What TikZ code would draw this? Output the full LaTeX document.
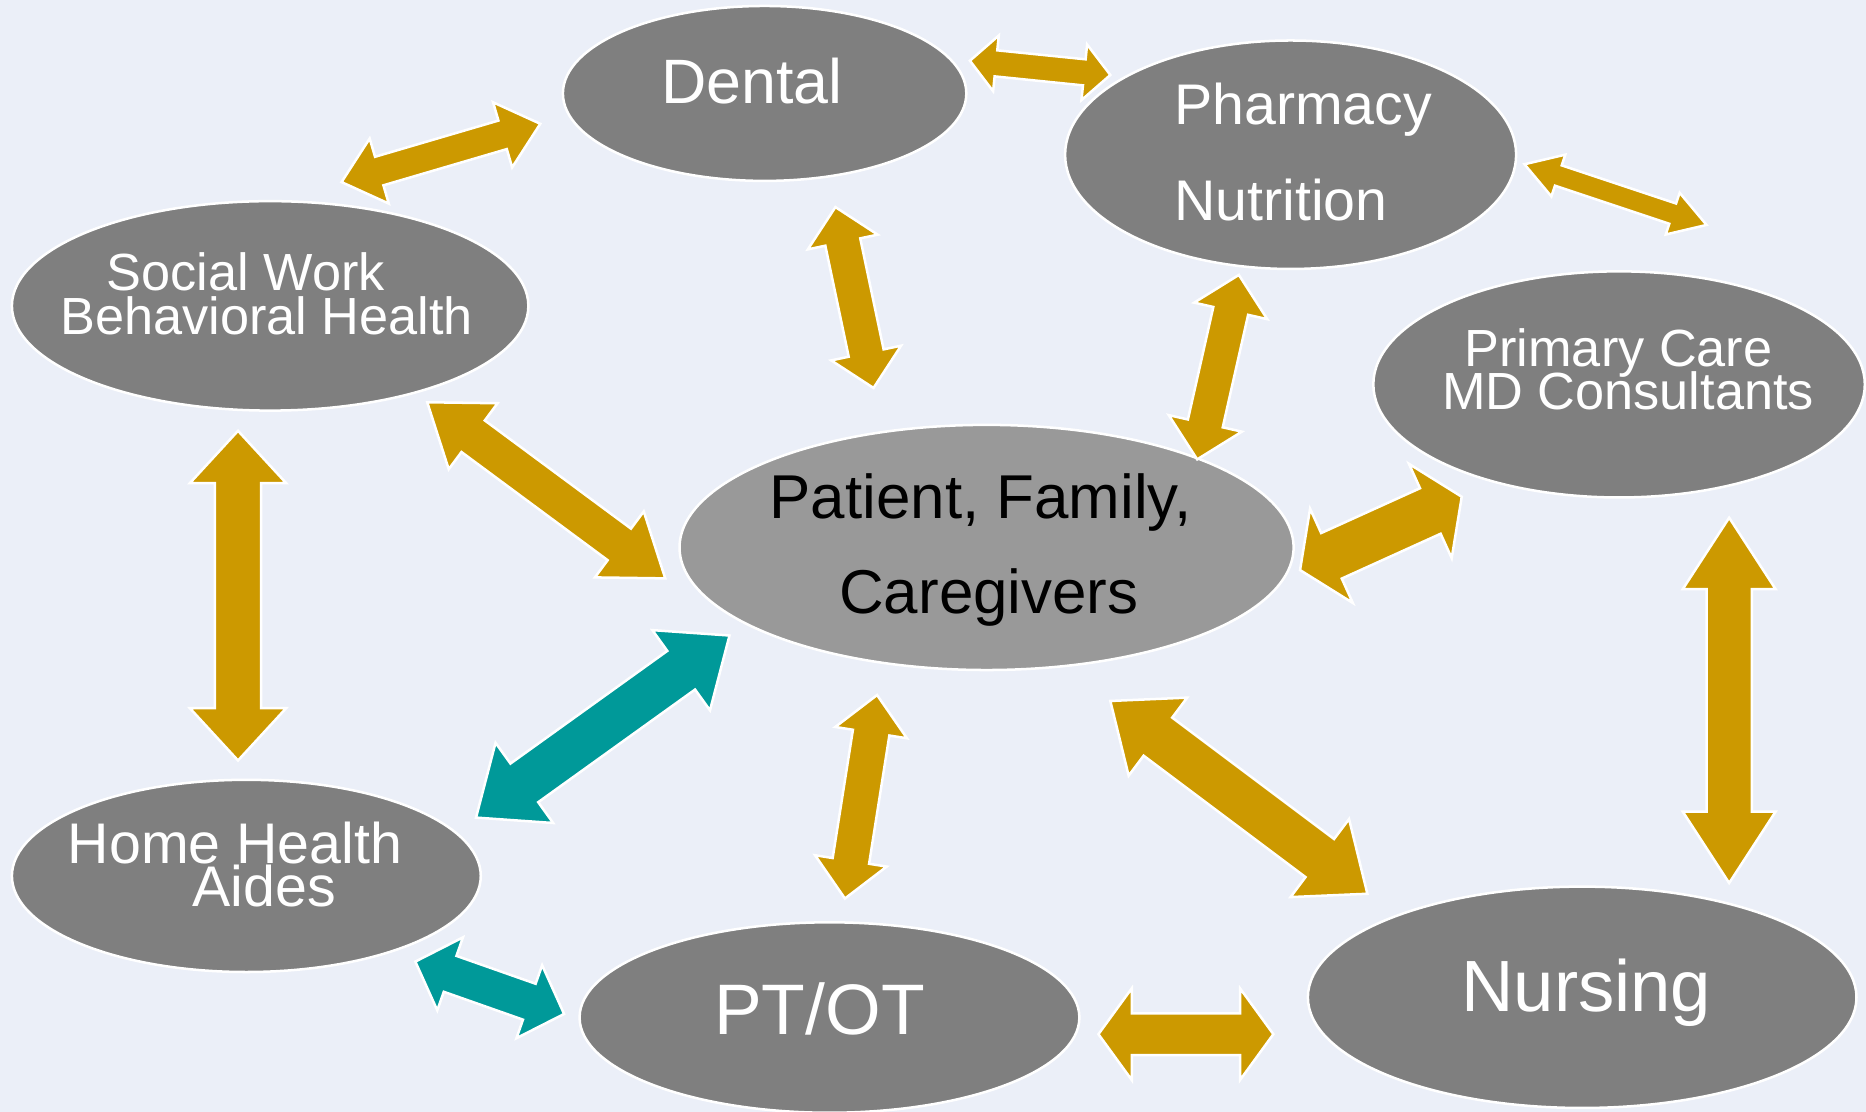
\documentclass[tikz,border=0pt]{standalone}
\usepackage{fontspec}
\setmainfont{Liberation Sans}
\usetikzlibrary{shapes.geometric, calc}

\definecolor{bgblue}{RGB}{235,239,248}
\definecolor{teamgray}{RGB}{127,127,127}
\definecolor{centergray}{RGB}{153,153,153}
\definecolor{gold}{RGB}{204,153,0}
\definecolor{linkteal}{RGB}{0,153,153}

\newcommand{\tagfont}[2]{\fontsize{#1}{#2}\selectfont\lineskiplimit=-20pt\relax}

\tikzset{
    team/.style={ellipse, draw=white, line width=0.6pt, fill=teamgray},
    tag/.style={text=white, inner sep=0pt, align=center},
    arrowbody/.style={draw=white, line width=0.6pt},
}

% block arrow with a head at both tips: tips, shaft width, head width, head length
\newcommand{\teamarrow}[6][gold]{%
    \path (#2) coordinate (ta) (#3) coordinate (tb);
    \path ($(ta)!#6!(tb)$) coordinate (ha) ($(tb)!#6!(ta)$) coordinate (hb);
    \filldraw[arrowbody, fill=#1]
    (ta) -- ($(ha)!0.5*#5!90:(tb)$) -- ($(ha)!0.5*#4!90:(tb)$)
    -- ($(hb)!0.5*#4!-90:(ta)$) -- ($(hb)!0.5*#5!-90:(ta)$) -- (tb)
    -- ($(hb)!0.5*#5!90:(ta)$) -- ($(hb)!0.5*#4!90:(ta)$)
    -- ($(ha)!0.5*#4!-90:(tb)$) -- ($(ha)!0.5*#5!-90:(tb)$) -- cycle;
}

\begin{document}
\begin{tikzpicture}
    \useasboundingbox (0, 0) rectangle (15.68, -9.34);
    \fill[bgblue] (0, 0) rectangle (15.68, -9.34);

    \node[team, minimum width=3.39cm, minimum height=1.47cm,
    label={[tag, xshift=-1.05mm, yshift=1mm, font=\tagfont{15}{18}]center:Dental}]
    (dental) at (6.425, -0.785) {};
    \node[team, minimum width=3.79cm, minimum height=1.92cm,
    label={[tag, align=left, xshift=1.05mm, yshift=0.25mm, font=\tagfont{13.7}{22.9}]center:Pharmacy\\Nutrition}]
    (pharm) at (10.845, -1.3) {};
    \node[team, minimum width=4.34cm, minimum height=1.76cm,
    label={[tag, xshift=-0.3mm, yshift=1mm, font=\tagfont{12.5}{10.4}]center:Social Work\hspace*{3.5mm}\\Behavioral Health}]
    (social) at (2.27, -2.57) {};
    \node[team, minimum width=4.13cm, minimum height=1.9cm,
    label={[tag, xshift=0.75mm, yshift=1.3mm, font=\tagfont{12.5}{10.25}]center:Primary Care\hspace*{1.6mm}\\MD Consultants}]
    (primary) at (13.605, -3.23) {};
    \node[team, fill=centergray, minimum width=5.16cm, minimum height=2.06cm,
    label={[tag, text=black, xshift=0.2mm, yshift=-0.2mm, font=\tagfont{14.8}{22.8}]center:{Patient, Family,\hspace*{1.4mm}\\Caregivers}}]
    (patient) at (8.29, -4.6) {};
    \node[team, minimum width=3.94cm, minimum height=1.615cm,
    label={[tag, xshift=1.5mm, yshift=0.95mm, font=\tagfont{13.7}{10.35}]center:Home Health\hspace*{4.9mm}\\Aides}]
    (home) at (2.07, -7.36) {};
    \node[team, minimum width=4.2cm, minimum height=1.6cm,
    label={[tag, xshift=-0.85mm, yshift=0.75mm, font=\tagfont{17.1}{20}]center:PT/OT}]
    (ptot) at (6.97, -8.55) {};
    \node[team, minimum width=4.61cm, minimum height=1.86cm,
    label={[tag, xshift=0.35mm, yshift=0.4mm, font=\tagfont{17.35}{20}]center:Nursing}]
    (nursing) at (13.295, -8.38) {};

    \teamarrow{[shift={(0.6, 1.04)}]social}{[shift={(-1.885, -0.255)}]dental}{0.25cm}{0.57cm}{0.33cm}
    \teamarrow{[shift={(1.725, 0.275)}]dental}{[shift={(-1.515, 0.67)}]pharm}{0.22cm}{0.47cm}{0.22cm}
    \teamarrow{[shift={(1.965, -0.08)}]pharm}{[shift={(0.735, 1.34)}]primary}{0.18cm}{0.37cm}{0.3cm}
    \teamarrow{[shift={(0.595, -0.955)}]dental}{[shift={(-0.95, 1.34)}]patient}{0.3cm}{0.6cm}{0.3cm}
    \teamarrow{[shift={(-0.435, -1.01)}]pharm}{[shift={(1.77, 0.74)}]patient}{0.3cm}{0.63cm}{0.31cm}
    \teamarrow{[shift={(1.32, -0.81)}]social}{[shift={(-2.7, -0.26)}]patient}{0.33cm}{0.69cm}{0.48cm}
    \teamarrow{[shift={(2.634, -0.19)}]patient}{[shift={(-1.322, -0.944)}]primary}{0.42cm}{0.87cm}{0.29cm}
    \teamarrow{[shift={(-0.27, -1.05)}]social}{[shift={(-0.07, 0.97)}]home}{0.39cm}{0.81cm}{0.44cm}
    \teamarrow[linkteal]{[shift={(-2.16, -0.74)}]patient}{[shift={(1.93, 0.49)}]home}{0.4cm}{0.83cm}{0.5cm}
    \teamarrow{[shift={(-0.92, -1.24)}]patient}{[shift={(0.13, 1.0)}]ptot}{0.31cm}{0.61cm}{0.32cm}
    \teamarrow{[shift={(1.04, -1.29)}]patient}{[shift={(-1.805, 0.87)}]nursing}{0.4cm}{0.82cm}{0.5cm}
    \teamarrow{[shift={(0.925, -1.12)}]primary}{[shift={(1.235, 0.96)}]nursing}{0.38cm}{0.78cm}{0.6cm}
    \teamarrow[linkteal]{[shift={(1.42, -0.72)}]home}{[shift={(-2.23, 0.03)}]ptot}{0.32cm}{0.65cm}{0.31cm}
    \teamarrow{[shift={(2.26, -0.14)}]ptot}{[shift={(-2.595, -0.31)}]nursing}{0.35cm}{0.77cm}{0.28cm}
\end{tikzpicture}
\end{document}
